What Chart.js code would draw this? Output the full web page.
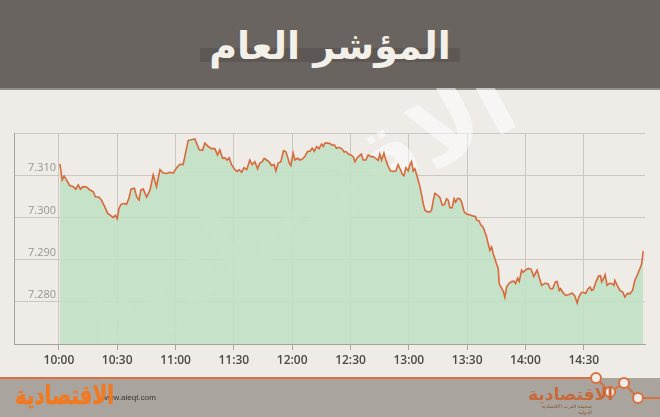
<!DOCTYPE html>
<html>
<head>
<meta charset="utf-8">
<script src="https://cdn.jsdelivr.net/npm/chart.js"></script>
<style>
body{margin:0;width:660px;height:417px;overflow:hidden;background:#efece8;font-family:"DejaVu Sans",sans-serif;position:relative}
#head{position:absolute;left:0;top:0;width:660px;height:88px;background:#6a6460;border-bottom:2px solid #938d87}
#band{position:absolute;left:200px;top:48px;width:260px;height:14px;background:#5d5853}
#title{position:absolute;left:0;top:24px;width:660px;text-align:center;color:#f3efe9;font-size:38px;font-weight:bold;direction:rtl}
#wrap{position:absolute;left:0;top:88px;width:660px;height:290px}
#foot{position:absolute;left:0;top:378px;width:660px;height:39px;background:#aaa49e}
#deco{position:absolute;left:0;top:370px}
#logo{position:absolute;left:15px;top:380px;font-size:26px;font-weight:bold;color:#f07a22;direction:rtl;z-index:2;transform:scaleX(0.76);transform-origin:left top;-webkit-text-stroke:0.6px #f07a22}
#site{position:absolute;left:102px;top:393px;font-size:8px;color:#3a3633;font-family:"Liberation Sans",sans-serif}
#logo2{position:absolute;left:528px;top:384px;font-size:17px;font-weight:bold;color:#c9693a;direction:rtl}
#sub2{position:absolute;left:530px;top:403px;width:62px;font-size:5px;color:#8a5a3a;direction:rtl;text-align:right}
</style>
</head>
<body>
<div id="head"><div id="band"></div><div id="title">المؤشر العام</div></div>
<div id="wrap"><canvas id="myChart" width="660" height="290"></canvas></div>
<div id="foot"></div>
<svg id="deco" width="660" height="47">
  <polyline points="0,8 596,8 610,22 624,13 638,28 660,28" fill="none" stroke="#d9703f" stroke-width="2"/>
  <circle cx="596" cy="8" r="5" fill="#efece8" stroke="#d9703f" stroke-width="2"/>
  <circle cx="610" cy="22" r="5" fill="#efece8" stroke="#d9703f" stroke-width="2"/>
  <circle cx="624" cy="13" r="5" fill="#efece8" stroke="#d9703f" stroke-width="2"/>
  <circle cx="638" cy="28" r="5" fill="#efece8" stroke="#d9703f" stroke-width="2"/>
</svg>
<div id="site">www.aleqt.com</div>
<div id="logo">الاقتصادية</div>
<div id="logo2">الاقتصادية</div>
<div id="sub2">صحيفة العرب الاقتصادية الدولية</div>
<script>
// minutes after 10:00
let minutes = [0.5,1.7,2.7,3.9,5.6,7.3,8.7,9.9,11.1,12.4,14.2,15.9,17.6,18.8,20.6,21.9,23.6,25.0,26.7,27.9,
  29.1,30.0,30.9,31.9,33.4,34.8,36.0,37.1,38.8,40.0,41.2,42.2,43.4,45.1,46.9,48.5,50.2,52.0,53.7,55.4,
  57.1,58.8,60.5,62.2,63.9,65.3,66.5,68.2,69.9,70.8,72.2,73.9,75.1,76.8,78.5,80.2,81.6,82.8,84.2,85.4,
  86.6,87.6,88.8,90.5,91.7,92.8,94.0,95.2,96.6,98.2,99.4,100.8,102.2,103.4,104.6,105.6,106.8,108.0,109.4,110.7,
  111.6,112.8,114.2,115.5,116.7,117.6,118.5,119.3,120.5,121.4,122.8,124.0,125.2,126.5,127.9,129.1,130.3,131.4,132.6,133.8,
  135.1,136.0,136.8,138.2,139.4,140.6,141.6,142.8,144.0,145.4,146.8,147.7,148.8,150.2,151.4,152.3,153.4,154.8,155.6,156.5,
  157.9,159.1,160.5,161.6,163.0,164.3,165.1,166.0,167.2,168.2,169.4,170.6,172.0,173.3,174.5,175.7,176.8,177.5,178.5,179.7,
  180.6,181.4,182.3,183.1,184.3,185.7,186.6,187.4,188.3,189.5,190.9,191.7,192.6,193.4,194.7,196.0,197.2,198.3,199.4,200.3,
  201.1,202.3,203.3,204.1,205.1,206.3,207.1,208.5,209.7,210.6,212.0,213.2,214.3,214.8,216.1,217.1,218.3,219.1,220.0,220.8,
  221.7,222.6,223.4,224.3,225.1,226.0,226.5,227.4,228.6,229.4,230.3,231.5,232.9,234.0,234.9,236.0,236.8,238.0,238.8,240.0,
  241.5,242.9,244.3,246.0,247.0,248.3,250.0,251.6,252.8,254.0,255.4,256.3,257.4,258.1,259.4,260.8,262.4,264.0,265.4,266.6,
  267.5,268.8,270.1,271.0,272.2,273.3,274.0,274.9,276.3,277.6,278.6,279.2,280.3,281.0,282.0,283.3,284.5,285.5,286.0,287.2,
  288.6,290.0,291.2,292.4,293.7,295.1,296.3,297.5,298.9,299.8,300.6];
let values = [7.3127,7.3089,7.3098,7.3089,7.3075,7.3073,7.3067,7.3077,7.3067,7.3073,7.3072,7.3065,7.3061,7.3049,7.3048,7.3041,7.3025,7.3010,7.3004,7.3000,
  7.3005,7.2997,7.3021,7.3031,7.3033,7.3031,7.3045,7.3067,7.3069,7.3049,7.3041,7.3065,7.3067,7.3048,7.3065,7.3101,7.3073,7.3113,7.3105,7.3104,
  7.3107,7.3105,7.3117,7.3126,7.3125,7.3156,7.3182,7.3184,7.3186,7.3176,7.3160,7.3159,7.3176,7.3168,7.3163,7.3163,7.3148,7.3160,7.3140,7.3141,
  7.3136,7.3141,7.3125,7.3113,7.3109,7.3113,7.3107,7.3118,7.3113,7.3136,7.3125,7.3132,7.3115,7.3129,7.3132,7.3140,7.3136,7.3132,7.3123,7.3125,
  7.3110,7.3129,7.3132,7.3158,7.3156,7.3144,7.3129,7.3123,7.3152,7.3136,7.3140,7.3136,7.3138,7.3144,7.3156,7.3157,7.3164,7.3157,7.3168,7.3163,
  7.3174,7.3168,7.3176,7.3176,7.3175,7.3171,7.3172,7.3164,7.3166,7.3163,7.3155,7.3156,7.3150,7.3148,7.3144,7.3132,7.3141,7.3147,7.3150,7.3136,
  7.3136,7.3148,7.3144,7.3144,7.3140,7.3135,7.3150,7.3136,7.3152,7.3136,7.3121,7.3110,7.3109,7.3110,7.3125,7.3113,7.3101,7.3099,7.3118,7.3110,
  7.3125,7.3132,7.3110,7.3115,7.3097,7.3073,7.3053,7.3033,7.3017,7.3013,7.3013,7.3017,7.3041,7.3057,7.3053,7.3047,7.3029,7.3030,7.3044,7.3041,
  7.3023,7.3023,7.3044,7.3036,7.3045,7.3044,7.3037,7.3013,7.3008,7.3007,7.3005,7.3003,7.3002,7.2994,7.2992,7.2982,7.2976,7.2966,7.2954,7.2938,
  7.2922,7.2930,7.2914,7.2902,7.2890,7.2879,7.2843,7.2835,7.2825,7.2811,7.2835,7.2843,7.2848,7.2849,7.2843,7.2856,7.2848,7.2875,7.2870,7.2875,
  7.2879,7.2877,7.2860,7.2875,7.2859,7.2839,7.2844,7.2843,7.2831,7.2831,7.2847,7.2848,7.2827,7.2831,7.2821,7.2815,7.2817,7.2821,7.2814,7.2797,
  7.2812,7.2822,7.2822,7.2820,7.2831,7.2835,7.2827,7.2829,7.2848,7.2861,7.2862,7.2847,7.2856,7.2864,7.2839,7.2844,7.2843,7.2839,7.2851,7.2839,
  7.2827,7.2823,7.2811,7.2820,7.2819,7.2827,7.2851,7.2863,7.2879,7.2890,7.2920];

let timeTicks = [0,30,60,90,120,150,180,210,240,270];
let timeLabels = ['10:00','10:30','11:00','11:30','12:00','12:30','13:00','13:30','14:00','14:30'];
let yTicks = [7.27,7.28,7.29,7.30,7.31,7.32];
let yLabels = ['','7.280','7.290','7.300','7.310',''];

let lineColor = '#d8693a';
let fillColor = 'rgba(193,225,197,0.9)';
let gridColor = '#cbc7c2';

let points = minutes.map((m, i) => ({x: m, y: values[i]}));

// faint diagonal newspaper watermark behind the line
let watermark = {
  id: 'watermark',
  beforeDatasetsDraw(chart) {
    let c = chart.ctx;
    c.save();
    c.translate(300, 128);
    c.rotate(-0.5);
    c.fillStyle = 'rgba(255,255,255,0.5)';
    c.font = 'bold 96px "DejaVu Sans"';
    c.textAlign = 'center';
    c.textBaseline = 'middle';
    c.direction = 'rtl';
    c.fillText('الاقتصادية', 0, 0);
    c.restore();
  }
};

let ctx = document.getElementById('myChart').getContext('2d');
let chart = new Chart(ctx, {
  type: 'line',
  data: {
    datasets: [{
      data: points,
      borderColor: lineColor,
      borderWidth: 1.6,
      backgroundColor: fillColor,
      fill: 'start',
      pointRadius: 0,
      tension: 0
    }]
  },
  options: {
    responsive: false,
    animation: false,
    devicePixelRatio: 1,
    layout: {padding: {left: 14, right: 15, top: 45, bottom: 0}},
    plugins: {legend: {display: false}, tooltip: {enabled: false}},
    scales: {
      x: {
        type: 'linear',
        min: -23.1,
        max: 301.5,
        afterBuildTicks: s => { s.ticks = timeTicks.map(v => ({value: v})); },
        afterFit: s => { s.height = 34; },
        grid: {color: gridColor, tickLength: 6, tickColor: '#aaa59f'},
        border: {color: '#a8a39e'},
        ticks: {
          callback: v => timeLabels[timeTicks.indexOf(v)],
          color: '#4d4945',
          font: {family: 'Open Sans', size: 12, weight: '600'},
          padding: 3,
          maxRotation: 0,
          autoSkip: false
        }
      },
      y: {
        min: 7.27,
        max: 7.32,
        afterBuildTicks: s => { s.ticks = yTicks.map(v => ({value: v})); },
        afterFit: s => { s.width = 0; },
        grid: {color: gridColor, drawTicks: false},
        border: {color: '#a8a39e'},
        ticks: {
          mirror: true,
          padding: 14,
          labelOffset: -7,
          color: '#9a9590',
          font: {family: 'Open Sans', size: 11},
          callback: (v, i) => yLabels[i]
        }
      }
    }
  },
  plugins: [watermark]
});
</script>
</body>
</html>
